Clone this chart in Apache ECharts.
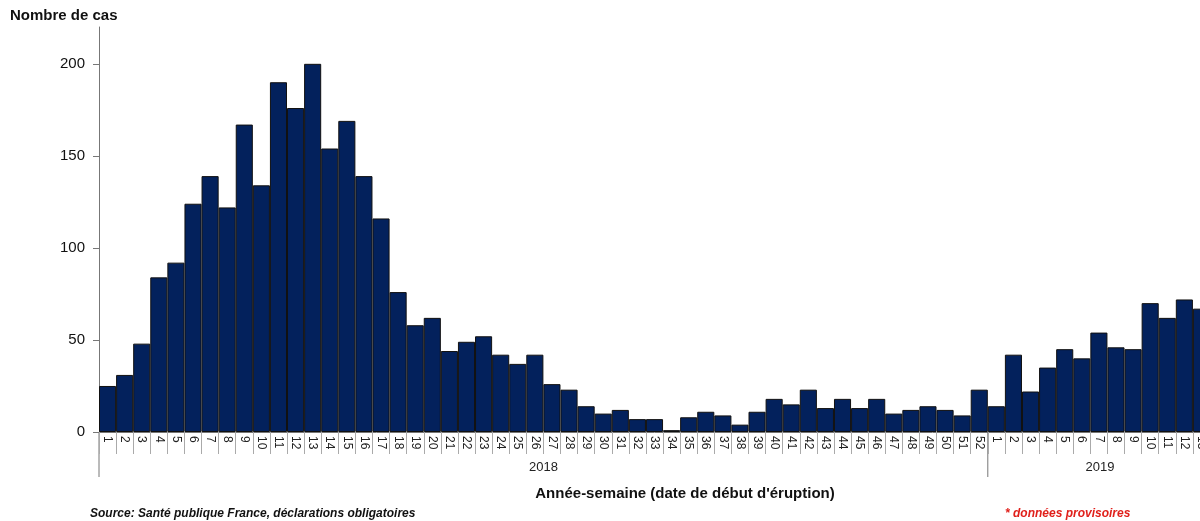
<!DOCTYPE html><html><head><meta charset="utf-8"><script src="https://cdn.jsdelivr.net/npm/echarts@6/dist/echarts.min.js"></script>
<style>html,body{margin:0;overflow:hidden;width:1200px;height:521px}#c{width:1230px;height:521px}</style></head><body><div id="c"></div><script>
const weeks2018=[];for(let i=1;i<=52;i++)weeks2018.push(String(i));
const weeks2019=['1','2','3','4','5','6','7','8','9','10','11','12','13'];
const values2018=[25,31,48,84,92,124,139,122,167,134,190,176,200,154,169,139,116,76,58,62,44,49,52,42,37,42,26,23,14,10,12,7,7,1,8,11,9,4,11,18,15,23,13,18,13,18,10,12,14,12,9,23];
const values2019=[14,42,22,35,45,40,54,46,45,70,62,72,67];
const yTicks=[0,50,100,150,200];
const cats=weeks2018.concat(weeks2019), vals=values2018.concat(values2019);
const ch=echarts.init(document.getElementById('c'));
const F='Liberation Sans, Arial, sans-serif';
ch.setOption({animation:false,
grid:{left:99,top:27,width:1111,height:405},
xAxis:{type:'category',data:cats,boundaryGap:true,
 axisLine:{lineStyle:{color:'#777',width:1}},
 axisTick:{show:true,length:22,interval:0,lineStyle:{color:'#aaa'}},
 axisLabel:{interval:0,rotate:-90,fontSize:12,color:'#222',fontFamily:F,margin:4,align:'left',verticalAlign:'middle'}},
yAxis:{type:'value',min:0,max:220,interval:50,
 axisLabel:{showMaxLabel:false,fontSize:15,color:'#111',fontFamily:F,margin:14,formatter:v=>yTicks.includes(v)?String(v):''},
 axisLine:{show:true,lineStyle:{color:'#777'}},axisTick:{show:true,length:6,lineStyle:{color:'#777'}},splitLine:{show:false}},
series:[{type:'bar',data:vals,barCategoryGap:'0%',itemStyle:{color:'#03215c',borderColor:'#111',borderWidth:1}}]
});
const x0=ch.convertToPixel({xAxisIndex:0},0); const w=ch.convertToPixel({xAxisIndex:0},1)-x0;
const sep2018=x0-w/2, sep2019=x0-w/2+52*w;
const y0=ch.convertToPixel({yAxisIndex:0},0);
ch.setOption({graphic:[
 {type:'line',shape:{x1:sep2018,y1:y0,x2:sep2018,y2:477},style:{stroke:'#777',lineWidth:1}},
 {type:'line',shape:{x1:sep2019,y1:y0,x2:sep2019,y2:477},style:{stroke:'#777',lineWidth:1}},
 {type:'text',x:(sep2018+sep2019)/2,y:467,style:{text:'2018',font:'13px '+F,fill:'#222',textAlign:'center',textVerticalAlign:'middle'}},
 {type:'text',x:1100,y:467,style:{text:'2019',font:'13px '+F,fill:'#222',textAlign:'center',textVerticalAlign:'middle'}},
 {type:'text',x:685,y:494,style:{text:"Année-semaine (date de début d'éruption)",font:'bold 15px '+F,fill:'#111',textAlign:'center',textVerticalAlign:'middle'}},
 {type:'text',x:10,y:16,style:{text:'Nombre de cas',font:'bold 15px '+F,fill:'#111',textVerticalAlign:'middle'}},
 {type:'text',x:90,y:514,style:{text:'Source: Santé publique France, déclarations obligatoires',font:'italic bold 12px '+F,fill:'#111',textVerticalAlign:'middle'}},
 {type:'text',x:1005,y:514,style:{text:'* données provisoires',font:'italic bold 12px '+F,fill:'#e0201b',textVerticalAlign:'middle'}}
]});
</script></body></html>
